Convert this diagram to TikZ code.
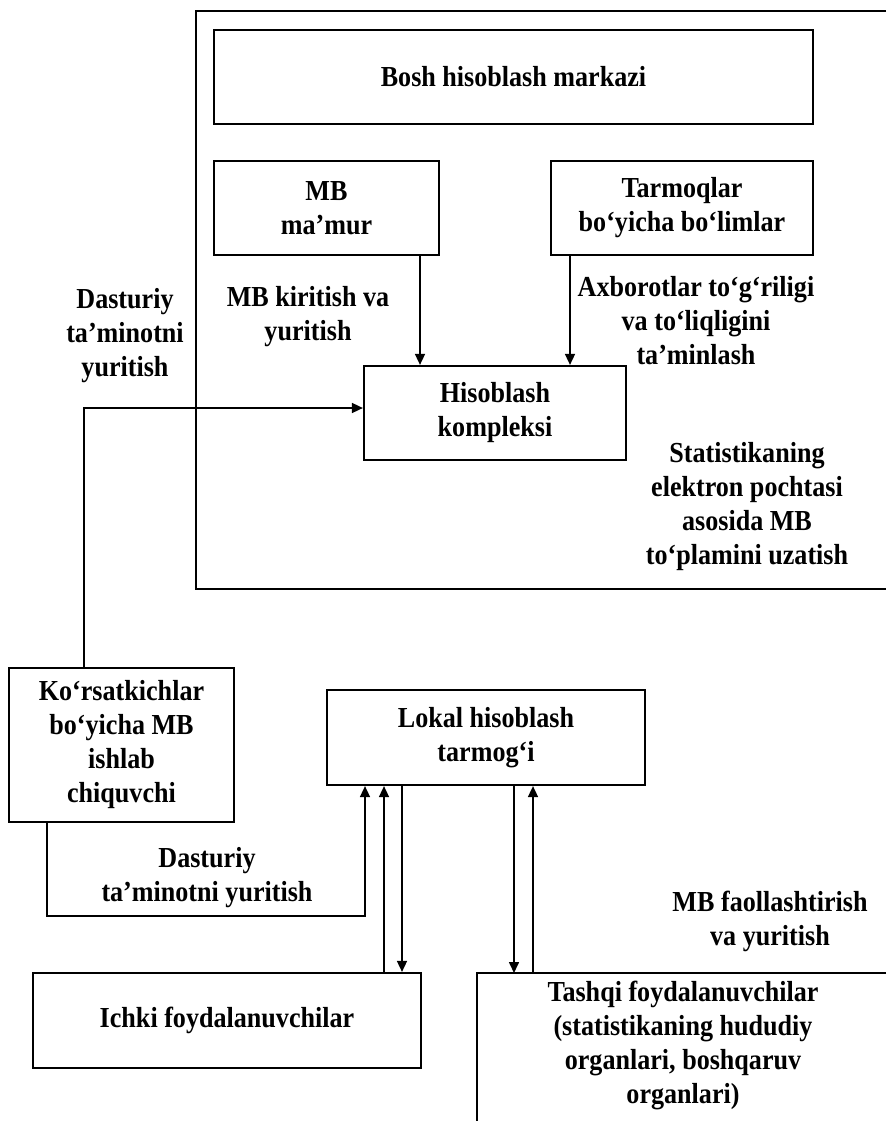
\documentclass[tikz,border=0pt]{standalone}
\usepackage{fontspec}
\setmainfont{Liberation Serif}[FakeStretch=0.9]
\usetikzlibrary{arrows.meta}
\tikzset{
  box/.style={draw, line width=2.2pt, inner sep=0pt, align=center},
  lbl/.style={inner sep=0pt, align=center},
  conn/.style={line width=1.6pt},
  arr/.style={conn, -{Triangle[length=11pt,width=10pt]}},
  every node/.style={font=\fontsize{29}{34}\selectfont\bfseries}
}
\begin{document}
\begin{tikzpicture}[x=1pt,y=-1pt]
\useasboundingbox (0,0) rectangle (886,1121);
% outer frame (open at right)
\draw[line width=2.4pt] (886,11) -- (196,11) -- (196,589) -- (886,589);
% boxes
\node[box, minimum width=599pt, minimum height=94pt] (bosh) at (513.5,77) {Bosh hisoblash markazi};
\node[box, minimum width=225pt, minimum height=94pt] (mb) at (326.5,208) {MB\\ma’mur};
\node[box, minimum width=262pt, minimum height=94pt] (tarm) at (682,208) {Tarmoqlar\\bo‘yicha bo‘limlar};
\node[box, minimum width=262pt, minimum height=94pt] (hk) at (495,413) {Hisoblash\\kompleksi};
\node[box, minimum width=225pt, minimum height=154pt] (kor) at (121.5,745) {Ko‘rsatkichlar\\bo‘yicha MB\\ishlab\\chiquvchi};
\node[box, minimum width=318pt, minimum height=95pt] (lokal) at (486,737.5) {Lokal hisoblash\\tarmog‘i};
\node[box, minimum width=388pt, minimum height=95pt] (ichki) at (227,1020.5) {Ichki foydalanuvchilar};
% tashqi box (open at right and bottom)
\coordinate (tq) at (477,973);
\draw[line width=2.2pt] (886,973) -- (tq) -- (477,1121);
\node[lbl] (tashqi) at (683,1045) {Tashqi foydalanuvchilar\\(statistikaning hududiy\\organlari, boshqaruv\\organlari)};
% labels
\node[lbl] (l1) at (308,317) {MB kiritish va\\yuritish};
\node[lbl] (l2) at (696,321) {Axborotlar to‘g‘riligi\\va to‘liqligini\\ta’minlash};
\node[lbl] (l3) at (747,507) {Statistikaning\\elektron pochtasi\\asosida MB\\to‘plamini uzatish};
\node[lbl] (l4) at (125,336) {Dasturiy\\ta’minotni\\yuritish};
\node[lbl] (l5) at (207,878) {Dasturiy\\ta’minotni yuritish};
\node[lbl] (l6) at (770,921) {MB faollashtirish\\va yuritish};
% connectors
\draw[arr] (mb.south -| 420,0) -- (hk.north -| 420,0);
\draw[arr] (tarm.south -| 570,0) -- (hk.north -| 570,0);
\draw[arr] (kor.north -| 84,0) |- (hk.west |- 0,408);
\coordinate (c1) at (365,916);
\draw[arr] (kor.south -| 47,0) |- (c1) -- (lokal.south -| c1);
\draw[arr] (ichki.north -| 384,0) -- (lokal.south -| 384,0);
\draw[arr] (lokal.south -| 402,0) -- (ichki.north -| 402,0);
\draw[arr] (lokal.south -| 514,0) -- (tq -| 514,0);
\draw[arr] (tq -| 533,0) -- (lokal.south -| 533,0);
\end{tikzpicture}
\end{document}
